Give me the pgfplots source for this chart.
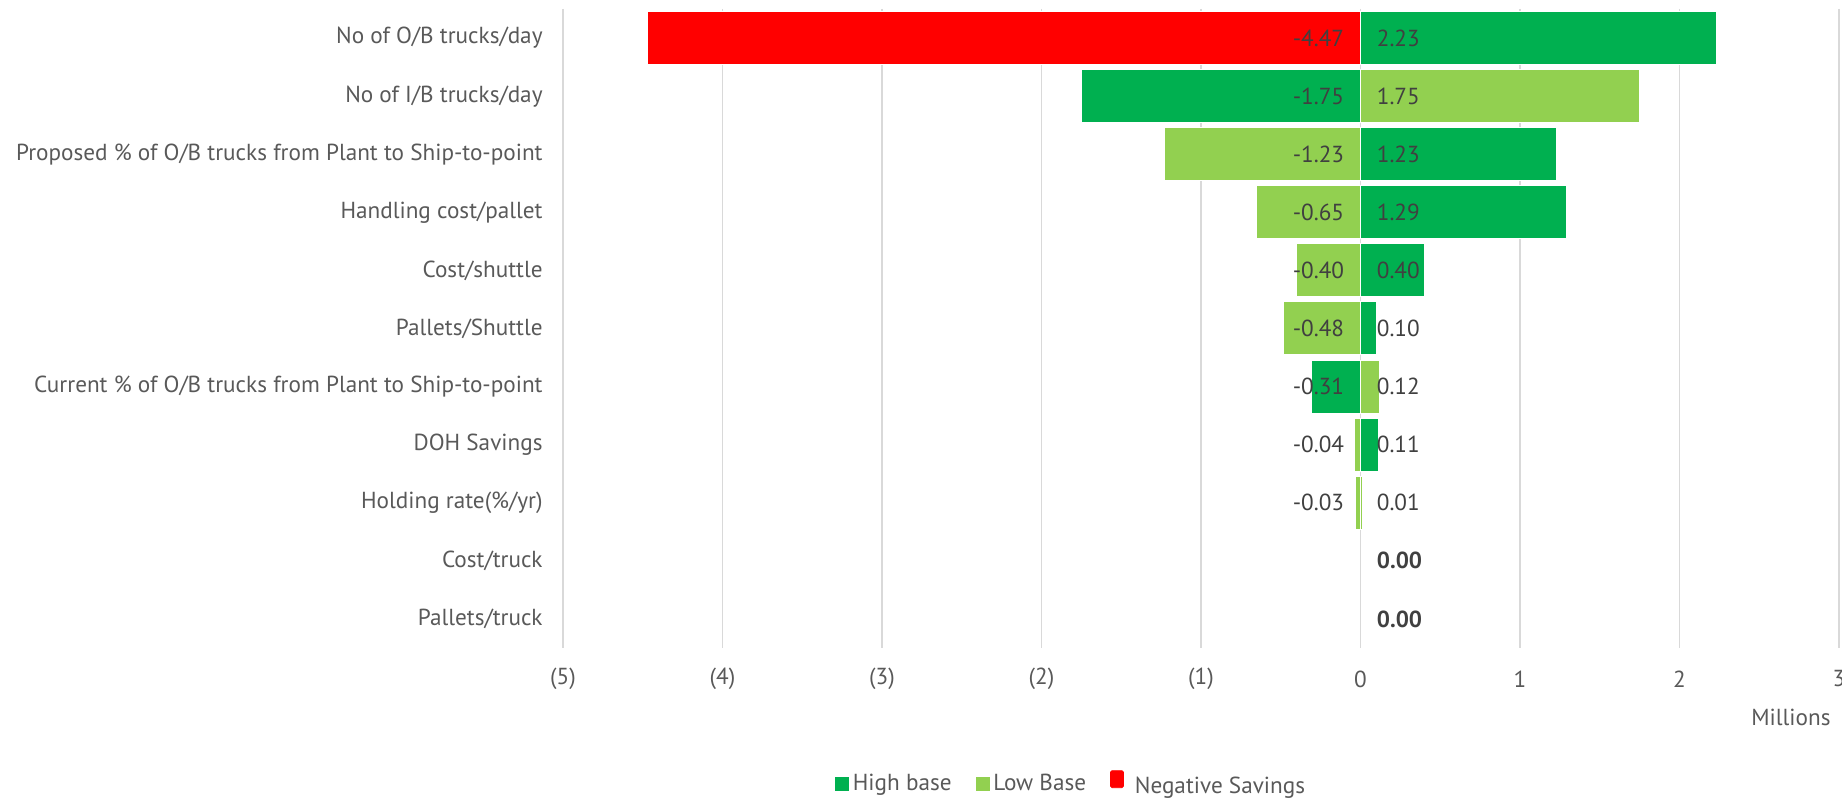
\documentclass[border=0pt]{standalone}
\usepackage{fontspec}
\setmainfont{PT Sans}
\usepackage{pgfplots}
\usepackage{pgfplotstable}
\pgfplotsset{compat=1.18}

\definecolor{cDark}{HTML}{00B050}
\definecolor{cLight}{HTML}{92D050}
\definecolor{cRed}{HTML}{FF0000}
\definecolor{cGrid}{HTML}{D9D9D9}
\definecolor{cText}{HTML}{595959}
\definecolor{cLabel}{HTML}{404040}

\newcommand\chartfont{\fontsize{11.6}{13.5}\selectfont}

% one row per driver: low-side value and colour, high-side value and colour
% colour codes: 1 = High base, 2 = Low Base, 3 = Negative Savings, 0 = no bar
\pgfplotstableread{
y   neg    negc  pos   posc
0   -4.47  3     2.23  1
1   -1.75  1     1.75  2
2   -1.23  2     1.23  1
3   -0.65  2     1.29  1
4   -0.40  2     0.40  1
5   -0.48  2     0.10  1
6   -0.31  1     0.12  2
7   -0.04  2     0.11  1
8   -0.03  2     0.01  2
9    0.00  0     0.00  0
10   0.00  0     0.00  0
}\tornado

\pgfplotsset{
  tbar/.style={xbar, bar width=26.5pt, bar shift=0pt, draw=white,
      line width=0.5pt, forget plot},
  tlabel/.style={draw=none, mark=none, forget plot, point meta=explicit,
      nodes near coords={\pgfmathprintnumber[fixed,fixed zerofill,
          precision=2,assume math mode=true]{\pgfplotspointmeta}},
      nodes near coords style={inner sep=0pt, font=\chartfont, text=cLabel}},
}

\begin{document}
\begin{tikzpicture}
\begin{axis}[
  at={(0,0)}, anchor=south west,
  scale only axis, width=638pt, height=319.5pt,
  xmin=-5, xmax=3, ymin=-0.5, ymax=10.5, y dir=reverse,
  xtick={-5,...,3},
  xticklabels={(5),(4),(3),(2),(1),0,1,2,3},
  ytick={0,...,10},
  yticklabels={No of O/B trucks/day, No of I/B trucks/day,
    Proposed \% of O/B trucks from Plant to Ship-to-point,
    Handling cost/pallet, Cost/shuttle, Pallets/Shuttle,
    Current \% of O/B trucks from Plant to Ship-to-point,
    DOH Savings, Holding rate(\%/yr), Cost/truck, Pallets/truck},
  axis line style={draw=none},
  major tick length=0pt,
  xmajorgrids, grid style={cGrid, line width=0.7pt},
  tick label style={font=\chartfont, text=cText},
  xticklabel style={anchor=center, yshift=-15.5pt},
  yticklabel style={anchor=east, inner sep=0pt, xshift=-10pt},
  clip=false,
  legend columns=3,
  legend cell align=left,
  legend style={at={(0.399,-0.213)}, anchor=center, draw=none, fill=none,
    font=\chartfont, text=cText,
    /tikz/every even column/.append style={column sep=10pt}},
]
% bars on the low side
\addplot[tbar, fill=cDark,  restrict expr to domain={\thisrow{negc}}{1:1}] table[x=neg, y=y] {\tornado};
\addplot[tbar, fill=cLight, restrict expr to domain={\thisrow{negc}}{2:2}] table[x=neg, y=y] {\tornado};
\addplot[tbar, fill=cRed,   restrict expr to domain={\thisrow{negc}}{3:3}] table[x=neg, y=y] {\tornado};
% bars on the high side
\addplot[tbar, fill=cDark,  restrict expr to domain={\thisrow{posc}}{1:1}] table[x=pos, y=y] {\tornado};
\addplot[tbar, fill=cLight, restrict expr to domain={\thisrow{posc}}{2:2}] table[x=pos, y=y] {\tornado};
% value labels next to the zero line
\addplot[tlabel, restrict expr to domain={\thisrow{negc}}{1:3},
  nodes near coords style={anchor=east, xshift=-8pt}]
  table[x expr=0, y=y, meta=neg] {\tornado};
\addplot[tlabel, restrict expr to domain={\thisrow{posc}}{1:3},
  nodes near coords style={anchor=west, xshift=8pt}]
  table[x expr=0, y=y, meta=pos] {\tornado};
\addplot[tlabel, restrict expr to domain={\thisrow{posc}}{0:0},
  nodes near coords style={anchor=west, xshift=8pt, font=\chartfont\bfseries}]
  table[x expr=0, y=y, meta=pos] {\tornado};

\addlegendimage{legend image code/.code={\fill[cDark] (0pt,-3.2pt) rectangle (6.5pt,3.3pt);}}
\addlegendentry{High base}
\addlegendimage{legend image code/.code={\fill[cLight] (0pt,-3.2pt) rectangle (6.5pt,3.3pt);}}
\addlegendentry{Low Base}
\addlegendimage{legend image code/.code={\fill[cRed, rounded corners=0.8pt] (0pt,-1.7pt) rectangle (6.5pt,6.8pt);}}
\addlegendentry{\hspace{3.5pt}\raisebox{-2pt}{Negative Savings}}

\node[anchor=east, inner sep=0pt, font=\chartfont, text=cText]
  at (axis description cs:0.9937,-0.108) {Millions};
\end{axis}
\pgfresetboundingbox
\path[use as bounding box] (-281.5pt,-76.5pt) rectangle (639.5pt,324pt);
\end{tikzpicture}
\end{document}
